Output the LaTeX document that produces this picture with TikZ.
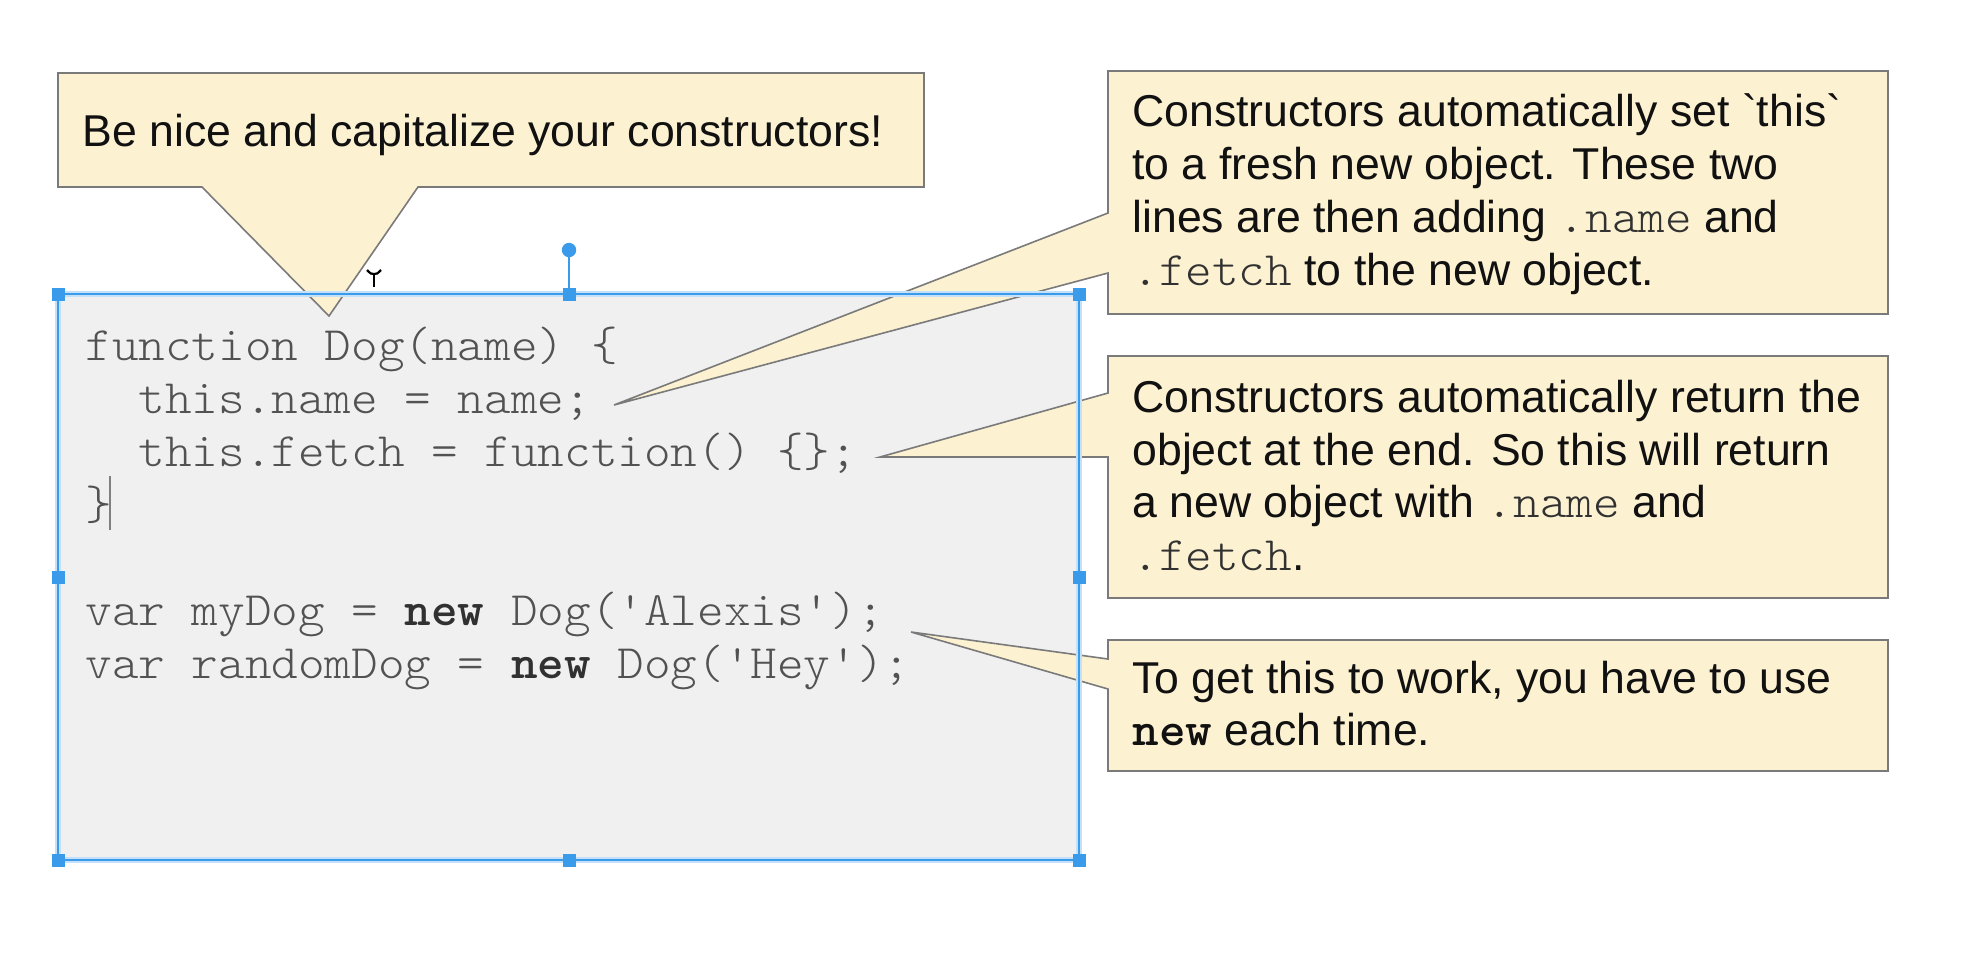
\documentclass[tikz,border=0pt]{standalone}
\usepackage{fontspec}
\setmainfont{Liberation Sans}
\setmonofont{lmmonolt10-regular.otf}[BoldFont=lmmonolt10-bold.otf,FakeStretch=1.056]
\definecolor{callfill}{HTML}{FCF1D1}
\definecolor{callline}{HTML}{7A7A7A}
\definecolor{codefill}{HTML}{F0F0F0}
\definecolor{selblue}{HTML}{3A9BEA}
\definecolor{codegray}{HTML}{525252}
\definecolor{txt}{HTML}{111111}
\newcommand\icode[1]{{\ttfamily\fontsize{24pt}{26.5pt}\selectfont\color{codegray!60!black}#1}}
\newcommand\bcode[1]{{\ttfamily\bfseries\fontsize{24pt}{26.5pt}\selectfont\color{txt}#1}}
\begin{document}
\begin{tikzpicture}[x=0.5pt,y=-0.5pt,
  callout/.style={fill=callfill,draw=callline,line width=0.8pt,line join=miter},
  codeline/.style={anchor=base west,inner sep=0pt,text=codegray,font=\ttfamily\fontsize{24pt}{26.5pt}\selectfont},
  noteline/.style={anchor=base west,inner sep=0pt,text=txt,font=\fontsize{22.3pt}{26.5pt}\selectfont},
  handle/.style={fill=selblue,inner sep=0pt,minimum size=6.5pt,draw=none}]
\useasboundingbox (0,0) rectangle (1984,960);
\fill[white] (0,0) rectangle (1984,960);

% code box background
\fill[codefill] (58,294) rectangle (1079,860);

% code text
\node[codeline] (c1) at (85,360) {function Dog(name) \{};
\node[codeline] (c2) at (85,413) {\ \ this.name = name;};
\node[codeline] (c3) at (85,466) {\ \ this.fetch = function() \{\};};
\node[codeline] (c4) at (85,519) {\}};
\node[codeline] (c5) at (85,625) {var myDog = {\bfseries\color{codegray!60!black}new} Dog('Alexis');};
\node[codeline] (c6) at (85,678) {var randomDog = {\bfseries\color{codegray!60!black}new} Dog('Hey');};
% text cursor
\coordinate (cur1) at (110,476);
\coordinate (cur2) at (110,530);
\draw[gray,line width=1pt] (cur1) -- (cur2);

% callout tips
\coordinate (tip1) at (329,316);
\coordinate (tip2) at (614,405);
\coordinate (tip3) at (880,457);
\coordinate (tip4) at (911,632);

% callouts
\draw[callout] (58,73) -- (924,73) -- (924,187) -- (418,187) -- (tip1) -- (202,187) -- (58,187) -- cycle;
\draw[callout] (1108,71) -- (1888,71) -- (1888,314) -- (1108,314) -- (1108,273) -- (tip2) -- (1108,213) -- cycle;
\draw[callout] (1108,356) -- (1888,356) -- (1888,598) -- (1108,598) -- (1108,457) -- (tip3) -- (1108,393) -- cycle;
\draw[callout] (1108,640) -- (1888,640) -- (1888,771) -- (1108,771) -- (1108,689) -- (tip4) -- (1108,659) -- cycle;

% callout texts
\node[noteline] (t1) at (82,146) {Be nice and capitalize your constructors!};
\node[noteline] (a1) at (1132,126) {Constructors automatically set \textasciigrave this\textasciigrave};
\node[noteline] (a2) at (1132,179) {to a fresh new object. These two};
\node[noteline] (a3) at (1132,232) {lines are then adding \icode{.name} and};
\node[noteline] (a4) at (1132,285) {\icode{.fetch} to the new object.};
\node[noteline] (b1) at (1132,412) {Constructors automatically return the};
\node[noteline] (b2) at (1132,465) {object at the end. So this will return};
\node[noteline] (b3) at (1132,517) {a new object with \icode{.name} and};
\node[noteline] (b4) at (1132,570) {\icode{.fetch}.};
\node[noteline] (d1) at (1132,693) {To get this to work, you have to use};
\node[noteline] (d2) at (1132,745) {\bcode{new} each time.};

% selection outline
\draw[selblue!30,line width=3pt] (58,294) rectangle (1079,860);
\draw[selblue,line width=1.4pt] (58,294) rectangle (1079,860);
\coordinate (rot) at (569,250);
\draw[selblue,line width=0.8pt] (rot) -- (569,294);
\fill[selblue] (rot) circle (3.6pt);
\node[handle] (h1) at (58,294) {};
\node[handle] (h2) at (569,294) {};
\node[handle] (h3) at (1079,294) {};
\node[handle] (h4) at (58,577) {};
\node[handle] (h5) at (1079,577) {};
\node[handle] (h6) at (58,860) {};
\node[handle] (h7) at (569,860) {};
\node[handle] (h8) at (1079,860) {};

% mouse cursor glyph
\draw[black,line width=1.1pt] (367,270) .. controls (371,274) .. (374,274) .. controls (377,274) .. (381,270);
\draw[black,line width=1.1pt] (374,274) -- (374,287);
\end{tikzpicture}
\end{document}
